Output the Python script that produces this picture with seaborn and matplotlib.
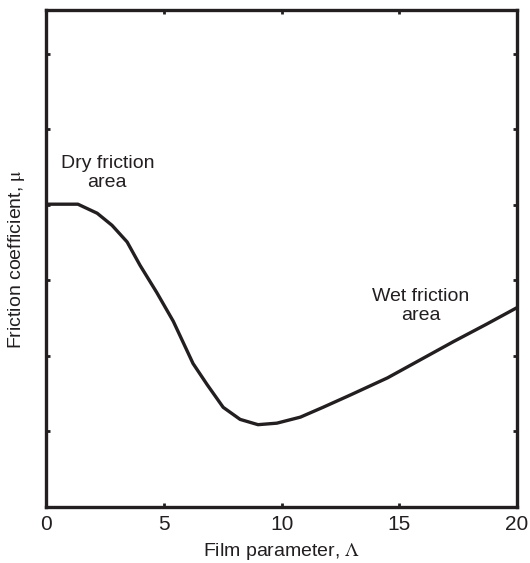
import numpy as np
import pandas as pd
import matplotlib.pyplot as plt
import seaborn as sns

# curve (arbitrary friction units)
film_param = [0.0, 1.35, 2.17, 2.8, 3.44, 3.99, 4.7, 5.4, 6.24, 6.84, 7.52, 8.24,
              9.0, 9.8, 10.8, 11.76, 12.9, 14.5, 15.9, 17.3, 18.7, 20.0]
friction = [4.01, 4.01, 3.89, 3.73, 3.51, 3.20, 2.84, 2.46, 1.90, 1.62, 1.32, 1.16,
            1.09, 1.11, 1.19, 1.32, 1.48, 1.71, 1.95, 2.19, 2.42, 2.64]
x_ticks = [0, 5, 10, 15, 20]
y_ticks = [0, 1, 2, 3, 4, 5, 6]

ink = "#231f20"

sns.set_style("ticks")
plt.rcParams["font.family"] = ["Liberation Sans", "DejaVu Sans"]
plt.rcParams["mathtext.fontset"] = "stix"

df = pd.DataFrame({"Film parameter": film_param, "Friction": friction})

fig = plt.figure(figsize=(5.30, 5.63), dpi=100)
ax = fig.add_axes([0.087, 0.0995, 0.8885, 0.8825])

sns.lineplot(data=df, x="Film parameter", y="Friction", ax=ax,
             color=ink, linewidth=2.4, sort=False)
ax.lines[0].set_solid_joinstyle("round")

ax.set_xlim(0, 20)
ax.set_ylim(0, 6.58)
ax.set_xticks(x_ticks)
ax.set_xticklabels([str(t) for t in x_ticks])
ax.set_yticks(y_ticks)
ax.set_yticklabels([])
ax.tick_params(direction="in", length=3, width=2, colors=ink,
               top=True, right=True, labelsize=15, pad=6)
for side in ["left", "right", "top", "bottom"]:
    ax.spines[side].set_visible(True)
    ax.spines[side].set_linewidth(2.4)
    ax.spines[side].set_color(ink)

ax.set_xlabel(r"Film parameter, $\Lambda$", fontsize=14, color=ink, labelpad=5)
ax.set_ylabel(r"Friction coefficient, $\mathrm{\mu}$", fontsize=14, color=ink, labelpad=8)

ax.text(2.6, 4.42, "Dry friction\narea", ha="center", va="center",
        fontsize=14, color=ink, linespacing=1.15)
ax.text(15.9, 2.66, "Wet friction\narea", ha="center", va="center",
        fontsize=14, color=ink, linespacing=1.15)

plt.savefig("out.png", dpi=100)
plt.close()
